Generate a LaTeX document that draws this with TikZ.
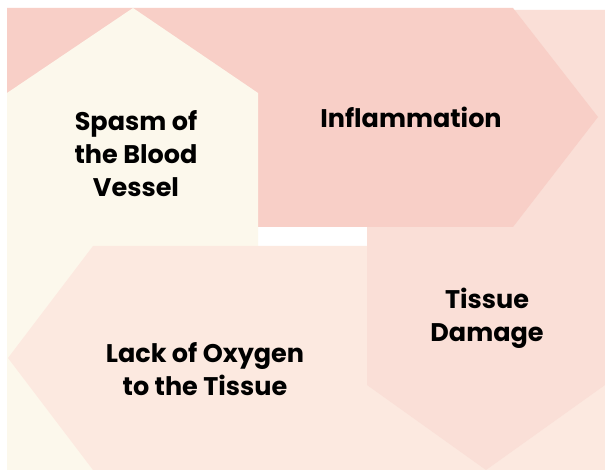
\documentclass[tikz,border=0pt]{standalone}
\usepackage{fontspec}
\setmainfont{Poppins}
\definecolor{spasmcol}{HTML}{FCF8EC}
\definecolor{inflcol}{HTML}{F8CFC7}
\definecolor{tissuecol}{HTML}{FADFD7}
\definecolor{lackcol}{HTML}{FCE9E0}

\begin{document}
\begin{tikzpicture}[x=1pt,y=-1pt,
    lbl/.style={font=\fontsize{25.5}{33}\selectfont\bfseries,align=center,text=black}]
  \fill[white] (0,0) rectangle (605,470);
  \fill[spasmcol] (7,470) -- (7,93) -- (133,8) -- (258,93) -- (258,470) -- cycle;
  \fill[lackcol] (605,246) -- (93,246) -- (8,358) -- (93,470) -- (605,470) -- cycle;
  \fill[tissuecol] (367,10) -- (605,10) -- (605,385) -- (486,470) -- (367,385) -- cycle;
  \fill[inflcol] (7,8) -- (513,8) -- (598,117) -- (513,227) -- (7,227) -- cycle;
  \fill[spasmcol] (7,227) -- (7,93) -- (133,8) -- (258,93) -- (258,227) -- cycle;
  \node[lbl] (spasm) at (136,154) {Spasm of\\the Blood\\Vessel};
  \node[lbl] (infl) at (411,117) {Inflammation};
  \node[lbl] (tissue) at (487,318) {Tissue\\Damage};
  \node[lbl] (lack) at (205,369) {Lack of Oxygen\\to the Tissue};
\end{tikzpicture}
\end{document}
